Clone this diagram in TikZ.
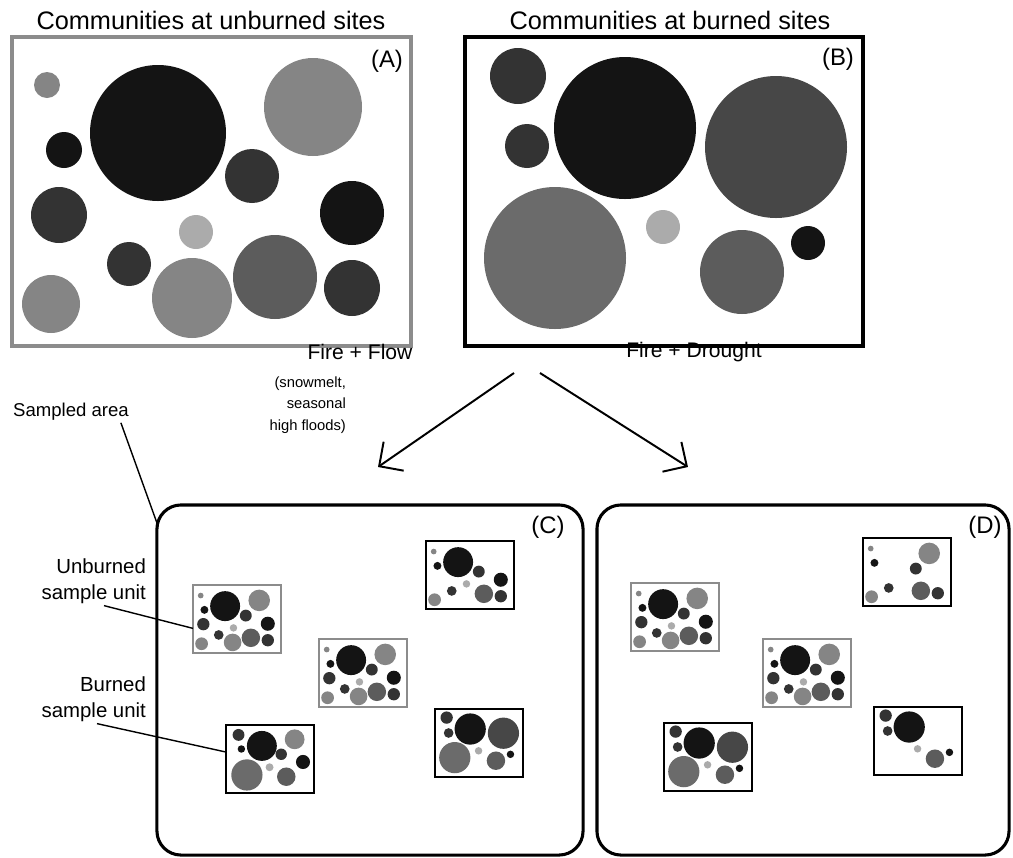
\documentclass[tikz,border=0pt]{standalone}
\usepackage{fontspec}
\setmainfont{Liberation Sans}
\usetikzlibrary{arrows.meta,calc}

\definecolor{spK}{HTML}{141414}
\definecolor{spD}{HTML}{333333}
\definecolor{spE}{HTML}{474747}
\definecolor{spM}{HTML}{5c5c5c}
\definecolor{spH}{HTML}{6b6b6b}
\definecolor{spG}{HTML}{858585}
\definecolor{spL}{HTML}{ababab}
\definecolor{spBorde}{HTML}{8c8c8c}

% comunidades: x/y/radio/tono en una caja de 400 x 310
\def\comA{35/48/13/spG, 146/96/68/spK, 301/70/49/spG, 52/113/18/spK, 240/139/27/spD, 47/178/28/spD, 340/176/32/spK, 184/195/17/spL, 117/227/22/spD, 39/267/29/spG, 180/261/40/spG, 263/240/42/spM, 340/251/28/spD}
\def\comB{53/39/28/spD, 62/109/22/spD, 160/91/71/spK, 311/110/71/spE, 90/221/71/spH, 198/190/17/spL, 277/235/42/spM, 343/206/17/spK}
\def\comCa{35/48/13/spG, 146/96/68/spK, 52/113/18/spK, 240/139/27/spD, 340/176/32/spK, 184/195/17/spL, 117/227/22/spD, 39/267/29/spG, 263/240/42/spM, 340/251/28/spD}
\def\comCb{57/45/27/spD, 163/95/68/spK, 312/65/45/spG, 70/109/17/spK, 251/133/26/spD, 350/168/32/spK, 198/192/18/spL, 95/227/71/spH, 274/235/42/spM}
\def\comDa{35/48/13/spG, 301/70/49/spG, 52/113/18/spK, 240/139/27/spD, 117/227/22/spD, 39/267/29/spG, 263/240/42/spM, 340/251/28/spD}
\def\comDb{53/39/28/spD, 62/109/22/spD, 160/91/71/spK, 198/190/17/spL, 277/235/42/spM, 343/206/17/spK}

\newcommand{\muestra}[4]{%
  \begin{scope}[shift={(#1,#2)},scale=#3]
    \foreach \cx/\cy/\cr/\ct in #4 {\fill[fill=\ct] (\cx,\cy) circle (\cr);}
  \end{scope}}

\begin{document}
\begin{tikzpicture}[x=0.025cm,y=-0.025cm,line width=1pt,>={Straight Barb[length=4.4mm,width=8.8mm]},
  tit/.style={font=\fontsize{18}{21}\selectfont},
  letra/.style={font=\fontsize{17}{20}\selectfont},
  lab/.style={font=\fontsize{14.5}{18.5}\selectfont,align=right,inner sep=1pt},
  nota/.style={font=\fontsize{10.5}{15.3}\selectfont,align=right,inner sep=1pt},
  sitioU/.style={draw=spBorde,line width=2pt,inner sep=0pt,outer sep=0pt,anchor=north west,
    minimum width=2.2cm,minimum height=1.7cm},
  sitioB/.style={sitioU,draw=black},
  zona/.style={draw,line width=2.2pt,rounded corners=0.6cm,inner sep=0pt,outer sep=0pt}]
  \useasboundingbox (0,0) rectangle (1013,857);
  % paneles de arriba
  \node[tit] (tA) at (211,20) {Communities at unburned sites};
  \node[tit] (tB) at (670,20) {Communities at burned sites};
  \node[sitioU,line width=2.4pt,minimum width=9.975cm,minimum height=7.725cm] (A) at (12,37) {};
  \node[sitioB,line width=2.4pt,minimum width=9.95cm,minimum height=7.725cm] (B) at (465,37) {};
  \muestra{12}{37}{1}{\comA}
  \muestra{465}{37}{1}{\comB}
  \node[letra] (lA) at (387,61) {(A)};
  \node[letra] (lB) at (838,59) {(B)};
  % flechas
  \coordinate (f0) at (514,373); \coordinate (f1) at (378,467);
  \coordinate (g0) at (540,373); \coordinate (g1) at (688,467);
  \draw[->,line width=1.4pt] (f0) -- (f1);
  \draw[->,line width=1.4pt] (g0) -- (g1);
  \node[font=\fontsize{15}{18}\selectfont] (tFlow) at (360,352) {Fire + Flow};
  \node[font=\fontsize{15}{18}\selectfont] (tDrought) at (694,352) {Fire + Drought};
  \node[nota,anchor=east] (tNota) at (348,405) {(snowmelt,\\seasonal\\high floods)};
  % areas muestreadas
  \node[zona,minimum width=10.65cm,minimum height=8.75cm] (C) at (370,680) {};
  \node[zona,minimum width=10.3cm,minimum height=8.75cm] (D) at (803,680) {};
  \node[letra] (lC) at (548,527) {(C)};
  \node[letra] (lD) at (985,527) {(D)};
  % unidades de muestreo
  \node[sitioU] (cU1) at (193,585) {}; \muestra{193}{585}{0.22}{\comA}
  \node[sitioU] (cU2) at (319,639) {}; \muestra{319}{639}{0.22}{\comA}
  \node[sitioB] (cB1) at (426,541) {}; \muestra{426}{541}{0.22}{\comCa}
  \node[sitioB] (cB2) at (226,725) {}; \muestra{226}{725}{0.22}{\comCb}
  \node[sitioB] (cB3) at (435,709) {}; \muestra{435}{709}{0.22}{\comB}
  \node[sitioU] (dU1) at (631,583) {}; \muestra{631}{583}{0.22}{\comA}
  \node[sitioU] (dU2) at (763,639) {}; \muestra{763}{639}{0.22}{\comA}
  \node[sitioB] (dB1) at (863,538) {}; \muestra{863}{538}{0.22}{\comDa}
  \node[sitioB] (dB2) at (664,723) {}; \muestra{664}{723}{0.22}{\comB}
  \node[sitioB] (dB3) at (874,707) {}; \muestra{874}{707}{0.22}{\comDb}
  % rotulos laterales
  \node[lab,font=\fontsize{13.2}{18.5}\selectfont] (lblS) at (71,412) {Sampled area};
  \node[lab,anchor=east] (lblU) at (148,581) {Unburned\\sample unit};
  \node[lab,anchor=east] (lblB) at (148,699) {Burned\\sample unit};
  \draw ([xshift=-0.25cm]lblS.south east) -- ([yshift=-0.45cm]C.north west);
  \draw ([xshift=-1.1cm]lblU.south east) -- (cU1.192);
  \draw ([xshift=-1.275cm]lblB.south east) -- (cB2.171);
\end{tikzpicture}
\end{document}
